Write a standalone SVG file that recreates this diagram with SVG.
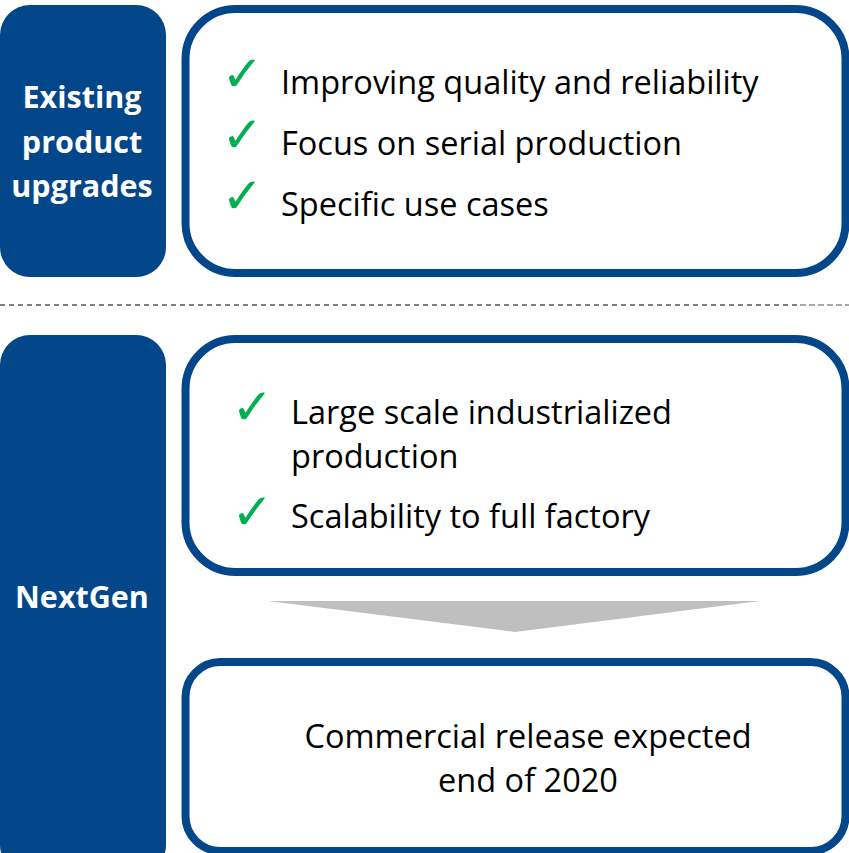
<svg xmlns="http://www.w3.org/2000/svg" width="849" height="853" viewBox="0 0 849 853">
  <style>
    .label { fill: #03468A; }
    .box { fill: #FFFFFF; stroke: #03468A; stroke-width: 8; }
    .lbl { font-family: "Open Sans", "Liberation Sans", sans-serif; font-weight: bold; font-size: 30.5px; fill: #FFFFFF; text-anchor: middle; }
    .txt { font-family: "Open Sans", "Liberation Sans", sans-serif; font-size: 32.5px; fill: #000000; }
    .chk { font-family: "DejaVu Sans", sans-serif; font-size: 50px; fill: #00B050; }
  </style>
  <rect width="849" height="853" fill="#FFFFFF"/>

  <g id="separator">
    <line x1="0" y1="305" x2="800" y2="305" stroke="#7F7F7F" stroke-width="2" stroke-dasharray="5 4"/>
    <line x1="800" y1="305" x2="849" y2="305" stroke="#8C8C8C" stroke-width="1.3" stroke-dasharray="6 3"/>
  </g>

  <g id="existing-label">
    <rect class="label" x="0" y="5" width="166" height="272" rx="30"/>
    <text class="lbl" x="82" y="108">Existing</text>
    <text class="lbl" x="82" y="152.5">product</text>
    <text class="lbl" x="82" y="197">upgrades</text>
  </g>

  <g id="existing-box">
    <rect class="box" x="185.5" y="9" width="660" height="264" rx="50"/>
    <text class="chk" x="221.5" y="90.5">✓</text>
    <text class="txt" x="281" y="94">Improving quality and reliability</text>
    <text class="chk" x="221.5" y="151.5">✓</text>
    <text class="txt" x="281" y="155">Focus on serial production</text>
    <text class="chk" x="221.5" y="212.5">✓</text>
    <text class="txt" x="281" y="216">Specific use cases</text>
  </g>

  <g id="nextgen-label">
    <rect class="label" x="0" y="335" width="166" height="540" rx="30"/>
    <text class="lbl" x="82" y="608">NextGen</text>
  </g>

  <g id="nextgen-box">
    <rect class="box" x="185.5" y="339" width="660" height="233" rx="50"/>
    <text class="chk" x="231.5" y="423.5">✓</text>
    <text class="txt" x="291" y="424">Large scale industrialized</text>
    <text class="txt" x="291" y="468">production</text>
    <text class="chk" x="231.5" y="529">✓</text>
    <text class="txt" x="291" y="528">Scalability to full factory</text>
  </g>

  <g id="release-box">
    <rect class="box" x="185.5" y="662" width="660" height="189" rx="35"/>
    <text class="txt" x="528" y="748" text-anchor="middle">Commercial release expected</text>
    <text class="txt" x="528" y="792" text-anchor="middle">end of 2020</text>
  </g>

  <g id="connectors">
    <polygon points="268,601 760,601 515,632" fill="#BFBFBF"/>
  </g>
</svg>
